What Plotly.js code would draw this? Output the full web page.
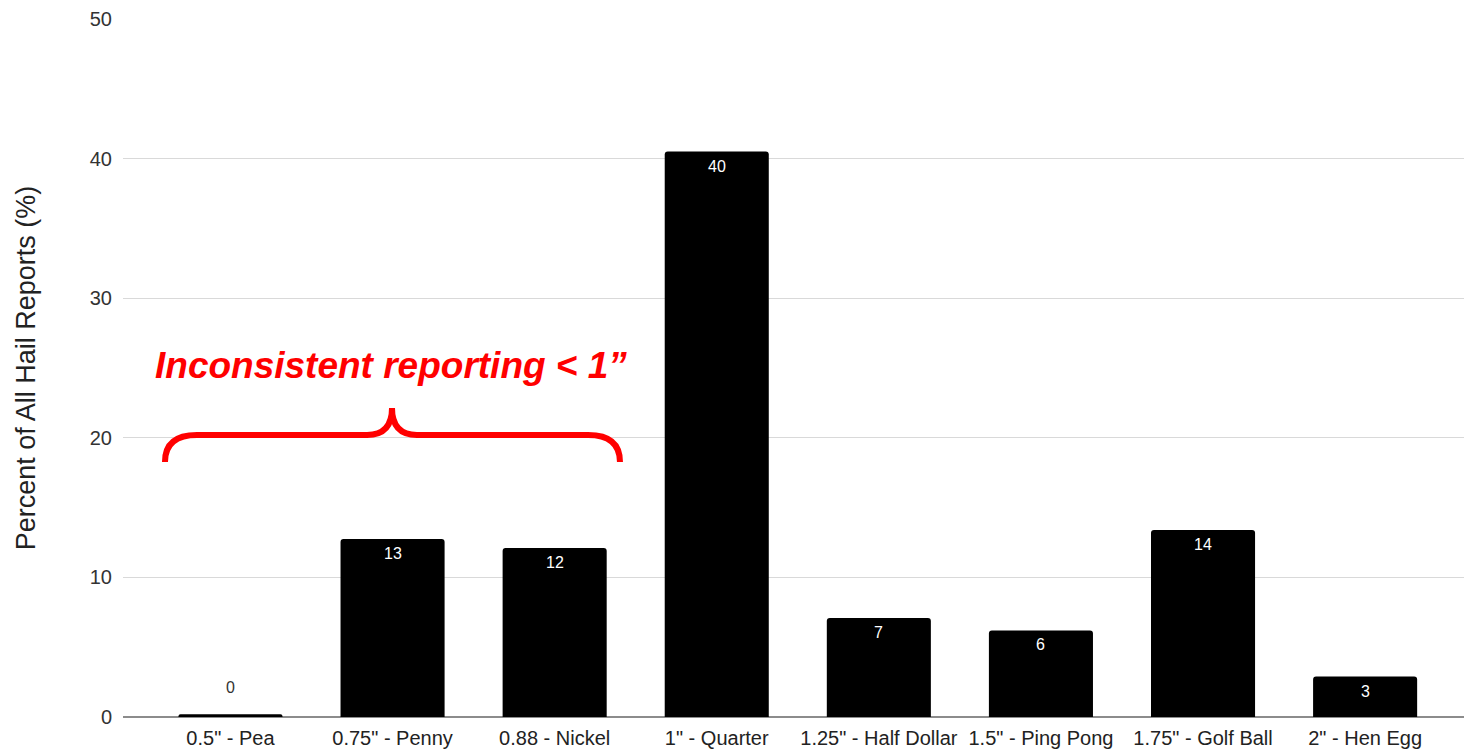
<!DOCTYPE html>
<html>
<head>
<meta charset="utf-8">
<script src="https://cdn.plot.ly/plotly-3.0.1.min.js"></script>
<style>html,body{margin:0;padding:0;background:#fff;}#chart{width:1464px;height:750px;}</style>
</head>
<body>
<div id="chart"></div>
<script>
const categories = ['0.5" - Pea', '0.75" - Penny', '0.88 - Nickel', '1" - Quarter', '1.25" - Half Dollar', '1.5" - Ping Pong', '1.75" - Golf Ball', '2" - Hen Egg'];
const percents = [0.2, 12.75, 12.1, 40.5, 7.1, 6.2, 13.4, 2.9];
const barLabels = ['0', '13', '12', '40', '7', '6', '14', '3'];
const yTicks = [0, 10, 20, 30, 40, 50];
const noteText = 'Inconsistent reporting < 1\u201D';

const FONT = 'Liberation Sans, Arial, sans-serif';

const trace = {
  type: 'bar',
  x: categories,
  y: percents,
  marker: {color: '#000000', cornerradius: 3},
  width: 0.642,
  hoverinfo: 'x+y'
};

const labelAnnotations = categories.map((c, i) => {
  const small = percents[i] < 2;
  return {
    x: c, y: percents[i], xref: 'x', yref: 'y',
    text: barLabels[i],
    showarrow: false,
    xanchor: 'center',
    yanchor: small ? 'bottom' : 'top',
    yshift: small ? 16 : -4,
    font: {family: FONT, size: 16, color: small ? '#333333' : '#ffffff'}
  };
});

const layout = {
  width: 1464, height: 750,
  margin: {l: 123, r: 0, t: 19, b: 33},
  paper_bgcolor: '#ffffff', plot_bgcolor: '#ffffff',
  showlegend: false,
  font: {family: FONT, color: '#222222'},
  xaxis: {
    type: 'category',
    range: [-0.663, 7.61],
    showgrid: false,
    showline: false,
    ticks: '',
    ticklabelstandoff: 7,
    tickfont: {size: 20, color: '#222222'},
    automargin: false,
    zeroline: false
  },
  yaxis: {
    range: [0, 50],
    tickvals: yTicks,
    ticktext: yTicks.map(String),
    showgrid: true,
    gridcolor: '#d9d9d9',
    gridwidth: 1,
    zeroline: true,
    zerolinecolor: '#8c8c8c',
    zerolinewidth: 1.5,
    showline: false,
    ticks: '',
    ticklabelstandoff: 10,
    tickfont: {size: 20, color: '#333333'},
    automargin: false,
    title: {text: 'Percent of All Hail Reports (%)', font: {size: 27, color: '#222222'}, standoff: 46}
  },
  annotations: labelAnnotations.concat([{
    text: '<b><i>' + noteText + '</i></b>',
    xref: 'paper', yref: 'y',
    x: 0.1995, y: 25.2,
    xanchor: 'center', yanchor: 'middle',
    showarrow: false,
    font: {family: FONT, size: 37, color: '#ff0000'}
  }]),
  shapes: [{
    type: 'path',
    xref: 'paper', yref: 'y',
    path: 'M 0.0313,18.27 Q 0.0313,20.2 0.0552,20.2 L 0.182,20.2 Q 0.2006,20.2 0.2006,22.13 Q 0.2006,20.2 0.2192,20.2 L 0.3468,20.2 Q 0.3706,20.2 0.3706,18.27',
    line: {color: '#ff0000', width: 6},
    fillcolor: 'rgba(0,0,0,0)'
  }]
};

Plotly.newPlot('chart', [trace], layout, {displayModeBar: false, staticPlot: true});
</script>
</body>
</html>
